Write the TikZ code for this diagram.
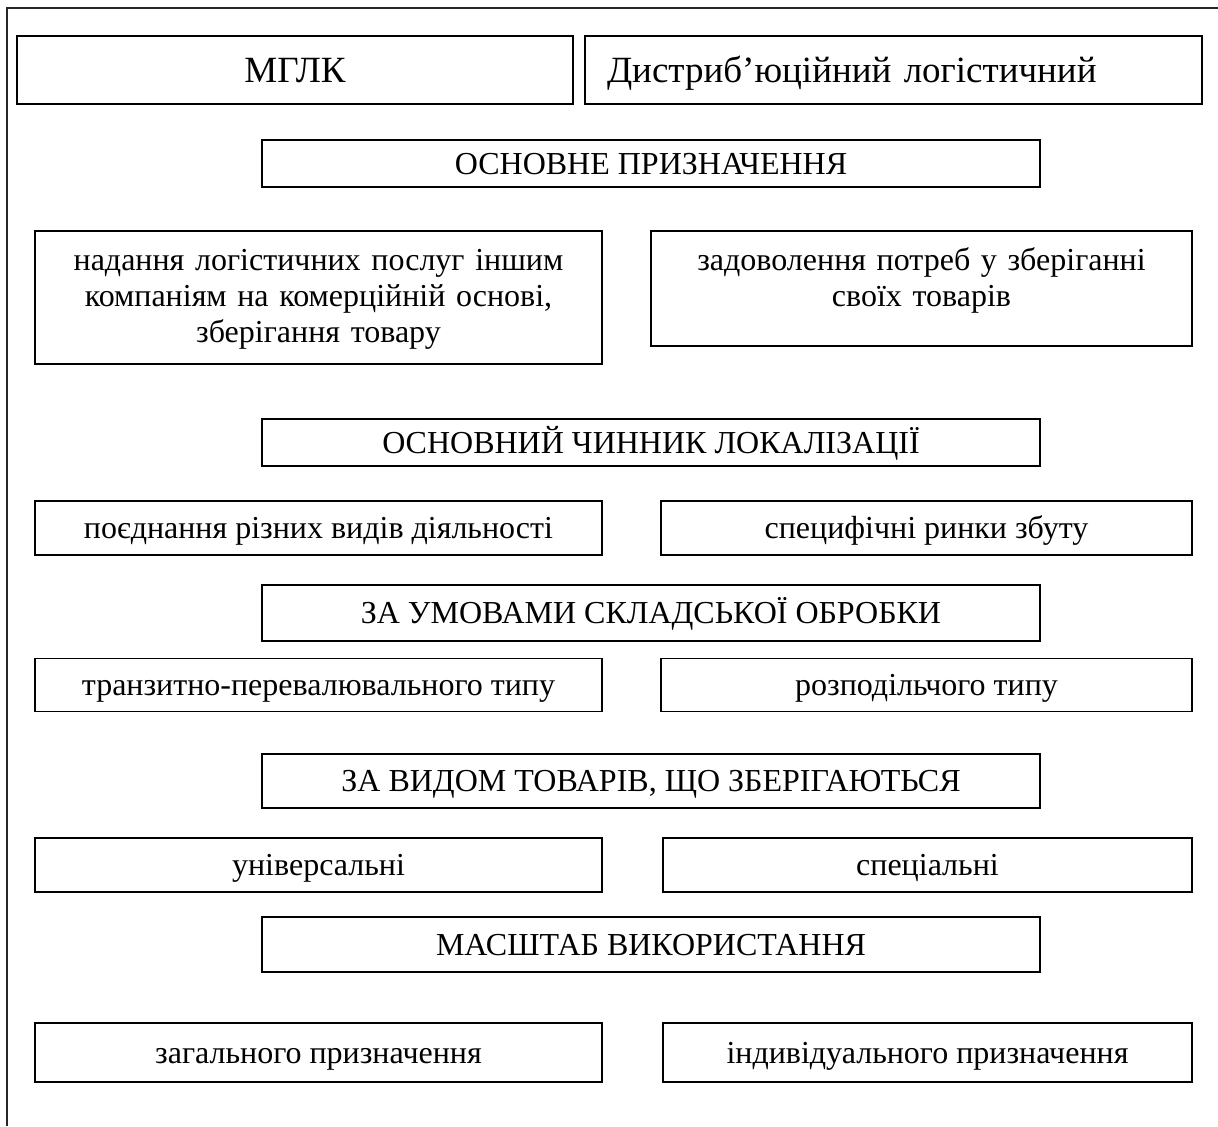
\documentclass[tikz,border=0pt]{standalone}
\usepackage{fontspec}
\setmainfont{Liberation Serif}

\begin{document}
\begin{tikzpicture}[x=0.5pt,y=-0.5pt]
\tikzset{box/.style={draw,line width=0.9pt,inner sep=0pt,align=center,text height=10.6pt,text depth=0pt,font=\fontsize{16}{18}\selectfont}}
\tikzset{head/.style={box,minimum width=389pt}}
\tikzset{leftbox/.style={box,minimum width=283.5pt}}
\tikzset{title/.style={box,minimum height=34pt,text height=12.25pt,font=\fontsize{18.5}{21}\selectfont}}

\useasboundingbox (0,0) rectangle (1218,1126);

% outer frame (top and left only)
\coordinate (tl) at (7,8);
\draw[line width=0.6pt,black!85] (1218,8) -- (tl) -- (7,1126);

\node[title,minimum width=278pt] (mglk) at (295,70) {МГЛК};
\node[title,inner xsep=11pt,text width=286.5pt,align=left] (dlc) at (893.5,70) {Дистриб’юційний логістичний};

\node[head,minimum height=23.5pt] (purpose) at (651,163.5) {ОСНОВНЕ ПРИЗНАЧЕННЯ};
\node[box,anchor=north,text width=283.5pt,text height=20pt,text depth=46.5pt] (service) at (318.5,230) {надання логістичних послуг іншим\\компаніям на комерційній основі,\\зберігання товару};
\node[box,anchor=north,text width=270.5pt,text height=20pt,text depth=37.5pt] (own) at (921.5,230) {задоволення потреб у зберіганні\\своїх товарів};

\node[head,minimum height=23.5pt] (location) at (651,442.5) {ОСНОВНИЙ ЧИННИК ЛОКАЛІЗАЦІЇ};
\node[leftbox,minimum height=27pt] (combine) at (318.5,528) {поєднання різних видів діяльності};
\node[box,minimum width=265.5pt,minimum height=27pt] (markets) at (926.5,528) {специфічні ринки збуту};

\node[head,minimum height=28pt] (handling) at (651,613) {ЗА УМОВАМИ СКЛАДСЬКОЇ ОБРОБКИ};
\node[leftbox,minimum height=26.5pt] (transit) at (318.5,685) {транзитно-перевалювального типу};
\node[box,minimum width=265.5pt,minimum height=26.5pt] (distrib) at (926.5,685) {розподільчого типу};

\node[head,minimum height=27pt] (goods) at (651,781) {ЗА ВИДОМ ТОВАРІВ, ЩО ЗБЕРІГАЮТЬСЯ};
\node[leftbox,minimum height=27pt] (universal) at (318.5,865) {універсальні};
\node[box,minimum width=264.5pt,minimum height=27pt] (special) at (927.5,865) {спеціальні};

\node[head,minimum height=27.5pt] (scale) at (651,944.5) {МАСШТАБ ВИКОРИСТАННЯ};
\node[leftbox,minimum height=29.5pt] (general) at (318.5,1052.5) {загального призначення};
\node[box,minimum width=264.5pt,minimum height=29.5pt] (individual) at (927.5,1052.5) {індивідуального призначення};

\end{tikzpicture}
\end{document}
